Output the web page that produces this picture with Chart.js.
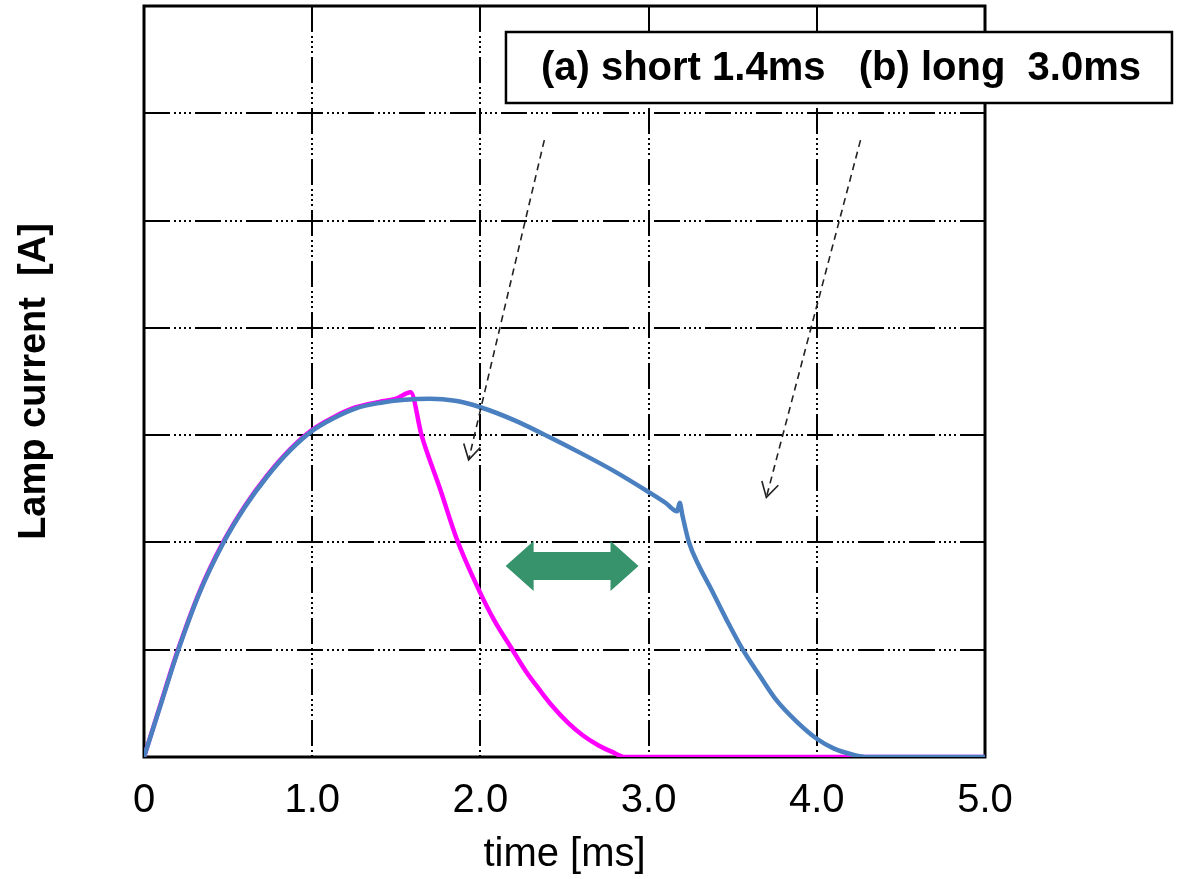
<!DOCTYPE html>
<html lang="en">
<head>
  <meta charset="UTF-8" />
  <title>Lamp current</title>
  <script src="https://cdn.jsdelivr.net/npm/chart.js"></script>
  <style>
    html, body { margin: 0; padding: 0; background: #fff; }
    canvas { display: block; }
  </style>
</head>
<body>
  <canvas id="chart" width="1179" height="879"></canvas>

  <script>
    // (a) short pulse, magenta
    const timeShort = [0, 0.1, 0.2, 0.33, 0.47, 0.6, 0.73, 0.87, 1.0, 1.13, 1.26, 1.4, 1.5, 1.585, 1.65, 1.76, 1.86, 1.99, 2.08, 2.19, 2.27, 2.35, 2.43, 2.52, 2.61, 2.7, 2.78, 2.86, 5.0];
    const currentShort = [0, 0.5, 0.99, 1.54, 2.0, 2.34, 2.62, 2.87, 3.05, 3.17, 3.26, 3.31, 3.34, 3.4, 3.0, 2.5, 2.03, 1.56, 1.28, 1.0, 0.8, 0.63, 0.47, 0.32, 0.2, 0.11, 0.05, 0, 0];

    // (b) long pulse, blue
    const timeLong = [0, 0.1, 0.2, 0.33, 0.47, 0.6, 0.73, 0.87, 1.0, 1.13, 1.26, 1.4, 1.55, 1.7, 1.85, 2.0, 2.2, 2.4, 2.6, 2.8, 3.0, 3.1, 3.17, 3.185, 3.2, 3.24, 3.3, 3.37, 3.46, 3.56, 3.66, 3.76, 3.88, 4.0, 4.1, 4.22, 4.3, 5.0];
    const currentLong = [0, 0.49, 0.98, 1.53, 1.99, 2.33, 2.61, 2.86, 3.04, 3.16, 3.25, 3.3, 3.33, 3.34, 3.32, 3.26, 3.14, 2.99, 2.83, 2.66, 2.47, 2.37, 2.29, 2.37, 2.26, 2.0, 1.78, 1.57, 1.29, 1.0, 0.76, 0.53, 0.33, 0.17, 0.08, 0.02, 0, 0];

    const xTickLabels = ['0', '1.0', '2.0', '3.0', '4.0', '5.0'];
    const legendText = '(a) short 1.4ms   (b) long  3.0ms';

    // annotation anchors in data units
    const pointers = [
      { from: [2.38, 5.75], to: [1.93, 2.77] },
      { from: [4.26, 5.75], to: [3.70, 2.42] }
    ];
    const gapArrow = { from: 2.15, to: 2.94, at: 1.78 };

    const FONT = "'Liberation Sans', Arial, sans-serif";
    const gridDash = [26, 4, 2, 3, 2, 3, 2, 3, 2, 4];

    function toPoints(xs, ys) {
      return xs.map((t, i) => ({ x: t, y: ys[i] }));
    }

    const frame = {
      id: 'frame',
      beforeDatasetsDraw(chart) {
        const { ctx, chartArea: a } = chart;
        ctx.save();
        ctx.strokeStyle = '#000';
        ctx.lineWidth = 3;
        ctx.strokeRect(a.left, a.top, a.right - a.left, a.bottom - a.top);
        ctx.restore();
      }
    };

    const annotations = {
      id: 'annotations',
      afterDatasetsDraw(chart) {
        const { ctx, scales: { x, y }, chartArea: a } = chart;
        ctx.save();

        // dashed pointer arrows with open heads
        pointers.forEach(p => {
          const x1 = x.getPixelForValue(p.from[0]), y1 = y.getPixelForValue(p.from[1]);
          const x2 = x.getPixelForValue(p.to[0]), y2 = y.getPixelForValue(p.to[1]);
          ctx.strokeStyle = '#222';
          ctx.lineWidth = 1.6;
          ctx.setLineDash([7, 5]);
          ctx.beginPath();
          ctx.moveTo(x1, y1);
          ctx.lineTo(x2, y2);
          ctx.stroke();
          ctx.setLineDash([]);
          const ang = Math.atan2(y2 - y1, x2 - x1);
          const len = 17, spread = Math.PI / 6;
          ctx.beginPath();
          ctx.moveTo(x2 - len * Math.cos(ang - spread), y2 - len * Math.sin(ang - spread));
          ctx.lineTo(x2, y2);
          ctx.lineTo(x2 - len * Math.cos(ang + spread), y2 - len * Math.sin(ang + spread));
          ctx.stroke();
        });

        // green double arrow
        const xl = x.getPixelForValue(gapArrow.from);
        const xr = x.getPixelForValue(gapArrow.to);
        const cy = y.getPixelForValue(gapArrow.at);
        const head = 28, hh = 25, sh = 14;
        ctx.fillStyle = '#36936b';
        ctx.beginPath();
        ctx.moveTo(xl, cy);
        ctx.lineTo(xl + head, cy - hh);
        ctx.lineTo(xl + head, cy - sh);
        ctx.lineTo(xr - head, cy - sh);
        ctx.lineTo(xr - head, cy - hh);
        ctx.lineTo(xr, cy);
        ctx.lineTo(xr - head, cy + hh);
        ctx.lineTo(xr - head, cy + sh);
        ctx.lineTo(xl + head, cy + sh);
        ctx.lineTo(xl + head, cy + hh);
        ctx.closePath();
        ctx.fill();

        // text box
        const bx = x.getPixelForValue(2.152), by = a.top + 26, bw = 666, bh = 71;
        ctx.fillStyle = '#fff';
        ctx.fillRect(bx, by, bw, bh);
        ctx.strokeStyle = '#000';
        ctx.lineWidth = 2.5;
        ctx.strokeRect(bx, by, bw, bh);
        ctx.fillStyle = '#000';
        ctx.font = 'bold 40px ' + FONT;
        ctx.textAlign = 'center';
        ctx.textBaseline = 'middle';
        ctx.fillText(legendText, bx + bw / 2 + 2, by + bh / 2 + 1);

        ctx.restore();
      }
    };

    new Chart(document.getElementById('chart'), {
      type: 'line',
      data: {
        datasets: [
          {
            label: '(b) long 3.0ms',
            data: toPoints(timeLong, currentLong),
            borderColor: '#4a7fc0',
            borderWidth: 4.5,
            pointRadius: 0,
            cubicInterpolationMode: 'monotone',
            order: 0
          },
          {
            label: '(a) short 1.4ms',
            data: toPoints(timeShort, currentShort),
            borderColor: '#ff00ff',
            borderWidth: 4.5,
            pointRadius: 0,
            cubicInterpolationMode: 'monotone',
            order: 1
          }
        ]
      },
      options: {
        responsive: false,
        animation: false,
        devicePixelRatio: 1,
        layout: { padding: { top: 6, right: 194, left: 0, bottom: 0 } },
        plugins: {
          legend: { display: false },
          tooltip: { enabled: false }
        },
        scales: {
          x: {
            type: 'linear',
            min: 0,
            max: 5,
            afterFit: s => { s.height = 122; },
            ticks: {
              stepSize: 1,
              padding: 20,
              color: '#000',
              font: { family: FONT, size: 40 },
              callback: v => xTickLabels[Math.round(v)]
            },
            grid: { color: '#000', lineWidth: 2, drawTicks: false },
            border: { display: false, dash: gridDash },
            title: {
              display: true,
              text: 'time [ms]',
              color: '#000',
              font: { family: FONT, size: 40 },
              padding: { top: 0, bottom: 0 }
            }
          },
          y: {
            min: 0,
            max: 7,
            afterFit: s => { s.width = 144; },
            ticks: { stepSize: 1, display: false },
            grid: { color: '#000', lineWidth: 2, drawTicks: false },
            border: { display: false, dash: gridDash },
            title: {
              display: true,
              text: 'Lamp current  [A]',
              color: '#000',
              font: { family: FONT, size: 38, weight: 'bold' },
              padding: { top: 12, bottom: 0 }
            }
          }
        }
      },
      plugins: [frame, annotations]
    });
  </script>
</body>
</html>
